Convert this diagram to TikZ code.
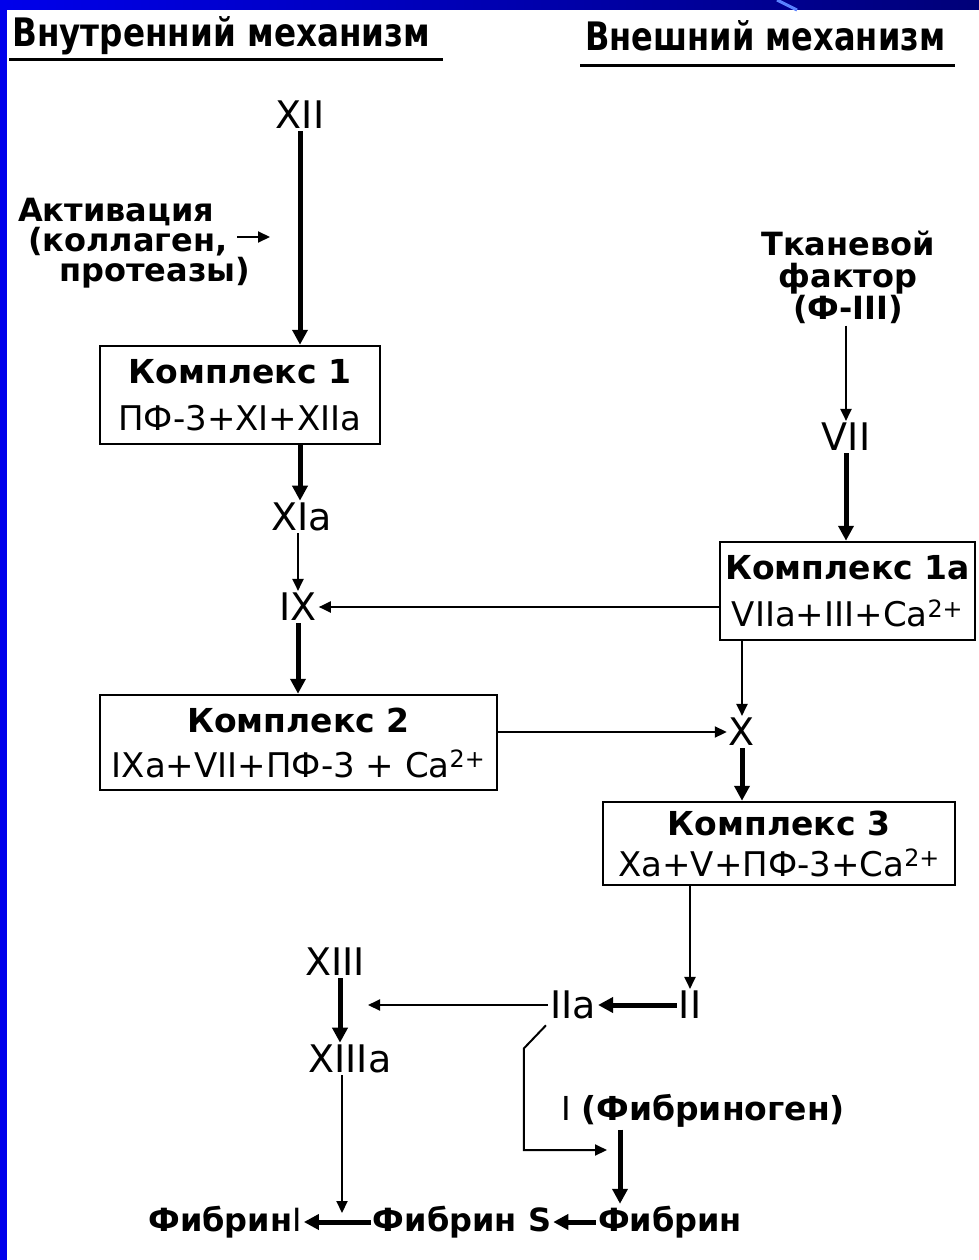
\documentclass[tikz,border=0pt]{standalone}
\usepackage{fontspec}
\setmainfont{DejaVu Sans}
\usetikzlibrary{arrows.meta}
\definecolor{frameblue}{RGB}{0,0,235}
\definecolor{framenavy}{RGB}{0,0,120}
\definecolor{streak}{RGB}{90,130,255}
\begin{document}
\begin{tikzpicture}[x=1pt,y=-1pt,
  boldar/.style={line width=5pt,-{Triangle[length=15pt,width=15pt]}},
  thinar/.style={line width=2pt,-{Triangle[length=12pt,width=11pt]}},
  lbl/.style={inner sep=2pt,font=\fontsize{32}{34}\selectfont\bfseries},
  num/.style={inner sep=2pt,font=\fontsize{38}{40}\selectfont},
  cbox/.style={draw,line width=2.5pt,inner sep=0pt,align=center,font=\fontsize{34}{47}\selectfont},
  hdr/.style={inner sep=0pt,anchor=base west},
  hline/.style={line width=3pt}
]
\useasboundingbox (0,0) rectangle (979,1260);
\fill[white] (0,0) rectangle (979,1260);
% slide frame
\shade[left color=frameblue,right color=framenavy] (0,0) rectangle (979,10);
\fill[frameblue] (0,0) rectangle (7,1260);
\draw[streak,line width=3pt] (777,0) -- (797,10);

% headers
\node[hdr] (h1) at (12,47) {\resizebox{418pt}{30pt}{\bfseries Внутренний механизм}};
\node[hdr] (h2) at (585,51) {\resizebox{360pt}{30pt}{\bfseries Внешний механизм}};
\draw[hline] (9,60) -- (443,60);
\draw[hline] (580,66) -- (955,66);

% intrinsic pathway
\node[num] (xii) at (300,115) {XII};
\node[lbl,align=left,anchor=west,font=\fontsize{32}{30}\selectfont\bfseries] (act) at (16,243)
  {Активация\\\hspace*{10pt}(коллаген,\\\hspace*{41pt}протеазы)};
\coordinate (actend) at (270,237);
\node[cbox,minimum width=280pt,minimum height=98pt] (b1) at (240,395)
  {{\bfseries\fontsize{33}{47}\selectfont Комплекс 1}\\ПФ-3+XI+XIIa};
\node[num] (xia) at (302,517) {XIa};
\node[num] (ix) at (298,607) {IX};
\node[cbox,minimum width=397pt,minimum height=95pt] (b2) at (298.5,742.5)
  {{\bfseries\fontsize{33}{45}\selectfont Комплекс 2}\\[-2pt]IXa+VII+ПФ-3 + Ca\textsuperscript{2+}};

% extrinsic pathway
\node[lbl,align=center,font=\fontsize{32}{32}\selectfont\bfseries] (tf) at (848,277)
  {Тканевой\\фактор\\(Ф-III)};
\node[num] (vii) at (846,437) {VII};
\node[cbox,minimum width=255pt,minimum height=98pt] (b1a) at (847.5,591)
  {{\bfseries\fontsize{33}{47}\selectfont Комплекс 1а}\\VIIa+III+Ca\textsuperscript{2+}};
\node[num] (x) at (742,732) {X};
\node[cbox,minimum width=352pt,minimum height=83pt] (b3) at (779,843.5)
  {{\bfseries\fontsize{33}{40}\selectfont Комплекс 3}\\[-6pt]Xa+V+ПФ-3+Ca\textsuperscript{2+}};

% common pathway
\node[num] (ii) at (690,1005) {II};
\node[num] (iia) at (573,1005) {IIa};
\coordinate (iiaend) at (368,1005);
\node[num] (xiii) at (335,962) {XIII};
\node[num] (xiiia) at (350,1059) {XIIIa};
\node[inner sep=2pt,font=\fontsize{33}{34}\selectfont] (fg) at (703,1111) {I \textbf{(Фибриноген)}};
\coordinate (fgarr) at (607,1150);
\node[lbl] (f1) at (225,1222) {Фибрин\mdseries I};
\node[lbl] (fs) at (462,1222) {Фибрин S};
\node[lbl] (fb) at (670,1222) {Фибрин};
\coordinate (f1arr) at (342,1213);

% connectors
\draw[boldar] (xii.south) -- (xii.south |- b1.north);
\draw[thinar] ([xshift=-15pt]act.east |- actend) -- (actend);
\draw[boldar] (b1.south -| xii) -- (xia.north -| xii);
\draw[thinar] (xia.south -| ix) -- (ix.north);
\draw[thinar] (ix.east -| b1a.west) -- (ix.east);
\draw[boldar] (ix.south) -- (ix.south |- b2.north);
\draw[thinar] (b2.east |- x) -- (x.west);
\draw[thinar] (tf.south -| vii) -- (vii.north);
\draw[boldar] (vii.south) -- (vii.south |- b1a.north);
\draw[thinar] (x.north |- b1a.south) -- (x.north);
\draw[boldar] (x.south) -- (x.south |- b3.north);
\draw[thinar] (ii.north |- b3.south) -- (ii.north);
\draw[boldar] (ii.west) -- (iia.east);
\draw[thinar] (iia.west) -- (iiaend);
\draw[boldar] ([xshift=5pt]xiii.south) -- ([xshift=5pt]xiii.south |- xiiia.north);
\draw[thinar] ([xshift=-8pt]xiiia.south) -- (f1arr);
\draw[thinar] ([xshift=-2pt,yshift=-4pt]iia.south west) -- ++(-22,23) |- (fgarr);
\draw[boldar] ([xshift=-83pt]fg.south) -- ([xshift=-83pt]fg.south |- fb.north);
\draw[boldar] (fs.west) -- (f1.east);
\draw[boldar] (fb.west) -- (fs.east);
\end{tikzpicture}
\end{document}
